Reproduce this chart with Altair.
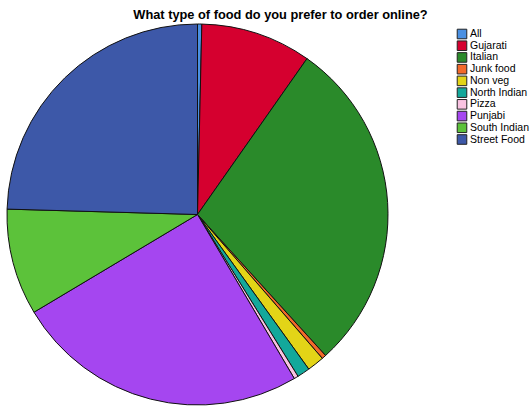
import altair as alt
import pandas as pd

categories = ["All", "Gujarati", "Italian", "Junk food", "Non veg", "North Indian",
              "Pizza", "Punjabi", "South Indian", "Street Food"]
counts = [1, 26, 79, 1, 4, 3, 1, 69, 25, 68]
colors = ["#4A90E2", "#D5002F", "#2A8A2A", "#F2692A", "#E3D417", "#13A89B",
          "#F9C3E2", "#A546F0", "#5CC23A", "#3D58A8"]

df = pd.DataFrame({"food": categories, "count": counts, "idx": list(range(len(categories)))})

color_scale = alt.Scale(domain=categories, range=colors)
leg_y = alt.Y("food:N", scale=alt.Scale(type="point", domain=categories, range=[34, 139.5], padding=0),
              axis=None)

pie = alt.Chart(df).mark_arc(
    radius=190.5, x=197.5, y=214.5, stroke="#111111", strokeWidth=1
).encode(
    theta=alt.Theta("count:Q", stack=True),
    order=alt.Order("idx:Q"),
    color=alt.Color("food:N", scale=color_scale, legend=None),
)

leg_sym = alt.Chart(df).mark_square(
    size=92, stroke="#222222", strokeWidth=1, opacity=1, filled=True
).encode(
    x=alt.value(462),
    y=leg_y,
    fill=alt.Fill("food:N", scale=color_scale, legend=None),
)

leg_txt = alt.Chart(df).mark_text(
    align="left", baseline="middle", font="Liberation Sans", fontSize=10.5, color="#000000"
).encode(
    x=alt.value(470),
    y=leg_y,
    text="food:N",
)

chart = alt.layer(pie, leg_sym, leg_txt).properties(
    width=531, height=406,
    autosize=alt.AutoSizeParams(type="none"),
    padding=0,
    title=alt.TitleParams(
        "What type of food do you prefer to order online?",
        font="Liberation Sans", fontSize=12.8, fontWeight="bold", color="#000000",
        anchor="middle", dx=15, offset=-22,
    ),
).configure_view(stroke=None)

chart.save("out.html", embed_options={"renderer": "svg", "actions": False})
